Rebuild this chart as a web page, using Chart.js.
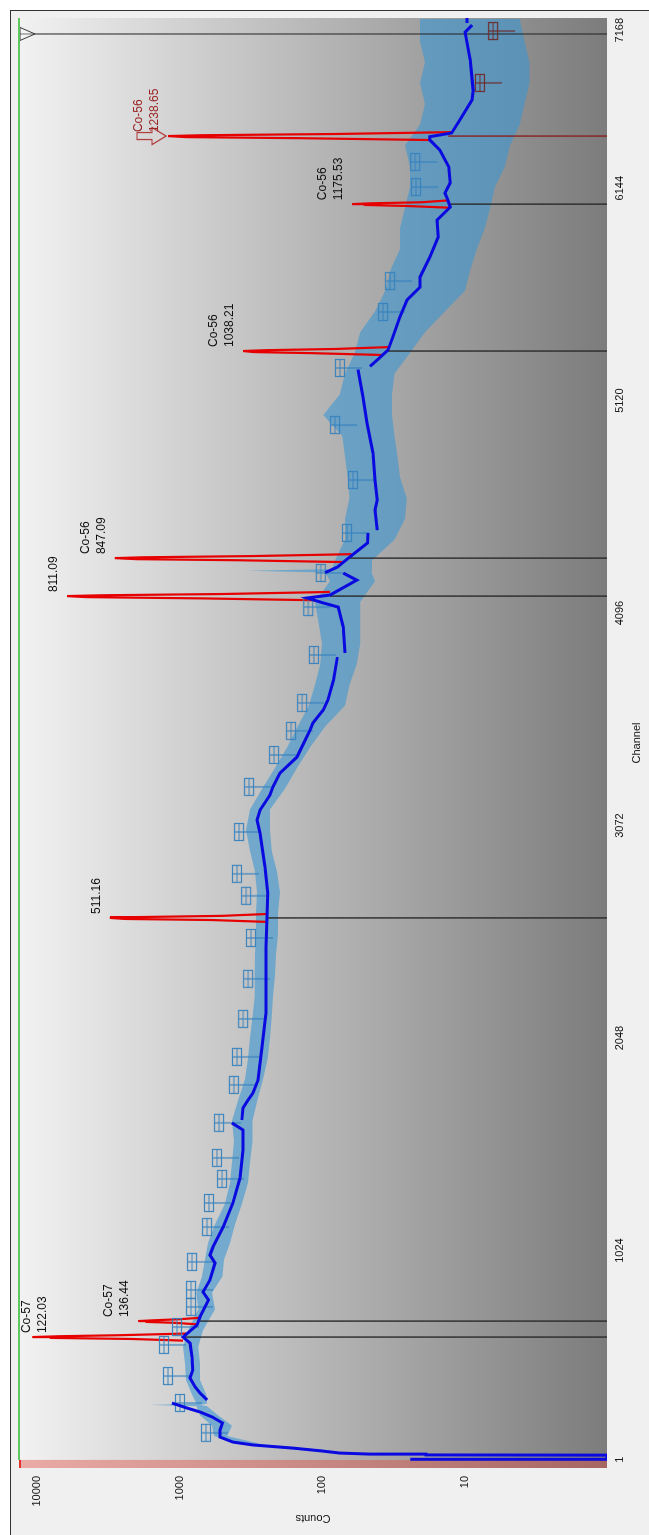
<!DOCTYPE html>
<html><head><meta charset="utf-8">
<script src="https://cdn.jsdelivr.net/npm/chart.js@4.4.1/dist/chart.umd.min.js"></script>
<style>
html,body{margin:0;padding:0;background:#fff;width:649px;height:1535px;overflow:hidden;}
#frame{position:absolute;left:10px;top:10px;width:700px;height:1600px;border-left:1px solid #333;border-top:1px solid #333;background:#f0f0f0;}
#wrap{position:absolute;left:0;top:0;width:1535px;height:649px;transform-origin:0 0;transform:translateY(1535px) rotate(-90deg);}
</style></head><body>
<div id="frame"></div>
<div id="wrap"><canvas id="c" width="1535" height="649"></canvas></div>
<script>
// ---- axis ticks ----
const channelTicks = [1, 1024, 2048, 3072, 4096, 5120, 6144];
const lastTickLabel = '7168';
const countTicks = [10, 100, 1000, 10000];
const xMin = -24, xMax = 6964, yMin = 1, yMax = 13375;
const pinkEnd = 15;
const cursorCh = 6887;

// ---- fitted continuum (dark blue) ----
const contCh = [15,17,19,38,39,43,48,58,72,87,
 101,125,159,193,222,246,265,289,296,304,
 337,366,410,448,511,578,607,665,704,786,
 824,882,964,1002,1041,1137,1253,1373,1508,1605,
 1639,1646,1653,1711,1749,1783,1846,2005,2169,2328,
 2487,2631,2747,2872,3036,3099,3147,3219,3258,3325,
 3402,3533,3566,3629,3677,3773,3884,3894,3904,4029,
 4125,4145,4169,4183,4255,4289,4290,4291,4318,4366,
 4434,4482,4489,4496,4593,4641,4737,4867,5012,5137,
 5270,5277,5285,5316,5364,5427,5523,5605,5667,5716,
 5812,5908,5990,6053,6087,6120,6169,6246,6328,6376,
 6392,6410,6472,6569,6617,6761,6896,6930,6935,6940,
 6964];
const contCounts = [1,24,1,1,18.6,46,75,100,160,305,
 422,520,520,500,590,718,886,1130,null,640,
 718,775,844,806,818,844,944,753,718,625,
 684,611,563,611,582,495,422,376,358,358,
 429,null,365,358,330,305,281,264,247,247,
 247,243,240,251,272,286,272,232,221,197,
 150,121,116,98,91,83,78,null,69,71,
 77,98,127,88,57,71,null,95,78,64,
 48,47.5,null,41,42.5,41,42.5,43.8,48.3,51.5,
 55.9,null,46,41,34.4,31.8,28.4,25.3,20.5,20.5,
 17.5,15.3,15.6,12.6,13.1,13.7,12.6,12.9,14.9,17.5,
 17.5,12.3,10.8,8.85,8.7,9.1,9.9,8.85,null,9.6,
 9.6];

// ---- measured spectrum spread (light blue band: high / low edges) ----
const noiseCh = [60,90,130,180,230,274,280,286,330,400,480,560,
 640,740,820,900,980,1060,1150,1250,1350,1450,
 1550,1650,1750,1850,1950,2050,2150,2250,2350,2450,
 2550,2650,2750,2850,2950,3050,3150,3250,3350,3450,
 3550,3650,3750,3850,3950,4050,4150,4250,4292,4300,4308,4350,
 4450,4550,4650,4750,4850,4950,5050,5150,5250,5350,
 5450,5550,5650,5750,5850,5950,6050,6150,6250,6350,
 6450,6550,6650,6750,6850,6960];
const noiseHi = [132,376,573,591,717,760,1611,760,816,899,914,944,
 867,738,761,695,661,630,563,479,442,428,
 415,428,387,347,331,320,307,297,297,295,
 290,290,286,295,320,341,320,263,214,175,
 148,124,112,103,100,106,112,88,95,334,85,81,
 69,69,64,66,69,72,98,75,69,59,
 54,42.5,36,33,28.4,28.4,26.2,24.1,24.1,26.2,
 20.5,18.9,20.5,18.9,20.5,20.5];
const noiseLo = [88,263,462,428,536,640,717,640,650,717,717,738,
 684,563,591,500,488,442,408,364,331,320,
 307,307,283,259,240,232,225,221,214,210,
 204,204,197,207,225,232,232,182,150,121,
 95,69,64,57,54,54,54,42.5,45,44.5,44.5,44.5,
 31,26.2,25.4,28.4,29.5,31,32.3,32.3,31,24.1,
 18.9,13.7,9.9,9.1,8.2,7.2,6.6,6.1,5.2,4.8,
 4.1,3.8,3.5,3.5,3.8,4.1];

// ---- identified peaks ----
const peakCh = [607, 684, 2627, 4178, 4361, 5359, 6067, 6395];
const peakTip = [10800, 1950, 3080, 6150, 2840, 358, 61.5, 1205];
const peakBase = [944, 717, 243, 88, 64, 35, 12.6, 13];
const peakNuclide = ['Co-57','Co-57','','','Co-56','Co-56','Co-56','Co-56'];
const peakEnergy = ['122.03','136.44','511.16','811.09','847.09','1038.21','1175.53','1238.65'];
const selectedPeak = 7;
const peakProfileCh = [
 [590,598,603,607,611,616,624],
 [668,676,680,684,688,693,700],
 [2608,2617,2622,2627,2631,2637,2646],
 [4158,4167,4173,4178,4182,4188,4198],
 [4342,4351,4356,4361,4365,4371,4380],
 [5340,5349,5354,5359,5363,5369,5378],
 [6050,6058,6063,6067,6071,6076,6085],
 [6376,6385,6390,6395,6399,6405,6414]];
const peakProfileCounts = [
 [944,2200,8000,10800,7000,2600,900],
 [740,1100,1700,1950,1500,1000,720],
 [245,600,2400,3080,2000,500,243],
 [110,700,4500,6150,3500,500,88],
 [70,400,2000,2840,1800,300,62],
 [38,120,300,358,250,80,34],
 [13,25,50,61.5,45,20,13],
 [17.5,150,900,1205,700,80,12.3]];

// ---- search markers ----
const markerCh = [145,289,419,569,655,752,834,969,1137,1253,
 1369,1470,1639,1822,1957,2140,2333,2530,2733,2839,
 3041,3258,3412,3528,3663,3894,4125,4289,4482,4737,
 5002,5277,5547,5696,6149,6270];
const markerCounts = [652,992,1205,1285,1042,830,830,817,641,621,
 503,546,528,415,395,358,330,315,341,395,
 382,325,217,165,138,114,125,102,66.8,60.6,
 81,74.8,37.3,33.3,21.9,22.2];
const darkMarkerCh = [6651, 6901];
const darkMarkerCounts = [7.8, 6.3];

// ---------------------------------------------------------------
const FONT = '"Liberation Sans", Arial, sans-serif';
Chart.defaults.font.family = FONT;
const pts = (xs, ys) => xs.map((v, i) => ({x: v, y: ys[i]}));

function boxGlyph(color){
  const c = document.createElement('canvas'); c.width = 20; c.height = 46;
  const g = c.getContext('2d'); g.strokeStyle = color; g.lineWidth = 1.2;
  g.strokeRect(1.5, 18.5, 17, 9);
  g.beginPath(); g.moveTo(1.5, 23); g.lineTo(18.5, 23);
  g.moveTo(10, 18.5); g.lineTo(10, 45); g.stroke();
  return c;
}
function arrowGlyph(){
  const c = document.createElement('canvas'); c.width = 22; c.height = 64;
  const g = c.getContext('2d'); g.strokeStyle = '#b03434'; g.lineWidth = 1.2;
  g.beginPath(); g.moveTo(7.5,1); g.lineTo(14.5,1); g.lineTo(14.5,16); g.lineTo(19.5,16);
  g.lineTo(11,30); g.lineTo(2.5,16); g.lineTo(7.5,16); g.closePath(); g.stroke();
  return c;
}
function triGlyph(){
  const c = document.createElement('canvas'); c.width = 16; c.height = 36;
  const g = c.getContext('2d'); g.strokeStyle = '#333'; g.lineWidth = 1;
  g.fillStyle = 'rgba(255,255,255,0.35)';
  g.beginPath(); g.moveTo(1.5,19); g.lineTo(14.5,19); g.lineTo(8,34); g.closePath(); g.fill(); g.stroke();
  return c;
}

const datasets = [];
datasets.push({data: pts(noiseCh, noiseHi), borderWidth: 0, pointRadius: 0, fill: false, order: 20});
datasets.push({data: pts(noiseCh, noiseLo), borderWidth: 0, pointRadius: 0, fill: 0,
  backgroundColor: 'rgba(58,150,210,0.6)', order: 20});
peakCh.forEach((c, i) => {
  datasets.push({data: [{x: c, y: peakBase[i]}, {x: c, y: yMin}],
    borderColor: i === selectedPeak ? '#8a2020' : '#2a2a2a', borderWidth: 1.4, pointRadius: 0, order: 15});
});
datasets.push({data: [{x: cursorCh, y: yMin}, {x: cursorCh, y: yMax}], borderColor: '#222', borderWidth: 1,
  pointRadius: 0, order: 15, clip: false});
peakProfileCh.forEach((chs, i) => {
  datasets.push({data: pts(chs, peakProfileCounts[i]), borderColor: '#e60000', borderWidth: 2.2,
    pointRadius: 0, order: 10});
});
datasets.push({data: pts(markerCh, markerCounts), showLine: false, pointStyle: boxGlyph('rgba(55,130,190,0.95)'),
  pointRadius: 10, order: 8, clip: false});
datasets.push({data: pts(darkMarkerCh, darkMarkerCounts), showLine: false, pointStyle: boxGlyph('#6e2c2c'),
  pointRadius: 10, order: 8, clip: false});
datasets.push({data: pts(contCh, contCounts), borderColor: '#0a0ae0', borderWidth: 3, pointRadius: 0,
  spanGaps: false, order: 5});
datasets.push({data: [{x: pinkEnd, y: yMax}, {x: xMax, y: yMax}], borderColor: '#5ec85e', borderWidth: 2,
  pointRadius: 0, order: 1, clip: false});
datasets.push({data: [{x: peakCh[selectedPeak], y: peakTip[selectedPeak]}], showLine: false,
  pointStyle: arrowGlyph(), pointRadius: 10, order: 1, clip: false});
datasets.push({data: [{x: cursorCh, y: yMax}], showLine: false, pointStyle: triGlyph(),
  pointRadius: 10, order: 1, clip: false});

const bgPlugin = {
  id: 'bg',
  beforeDatasetsDraw(chart){
    const {ctx, chartArea: a, scales: {x}} = chart;
    ctx.save();
    const gr = ctx.createLinearGradient(0, a.top, 0, a.bottom);
    gr.addColorStop(0, '#f2f2f2'); gr.addColorStop(1, '#7c7c7c');
    ctx.fillStyle = gr; ctx.fillRect(a.left, a.top, a.right - a.left, a.bottom - a.top);
    const pe = x.getPixelForValue(pinkEnd);
    ctx.fillStyle = 'rgba(225,75,65,0.42)'; ctx.fillRect(a.left, a.top, pe - a.left, a.bottom - a.top);
    ctx.fillStyle = '#e03030'; ctx.fillRect(a.left, a.top, pe - a.left, 2);
    ctx.restore();
  }
};
const labelPlugin = {
  id: 'peakLabels',
  afterDatasetsDraw(chart){
    const {ctx, chartArea, scales: {x, y}} = chart;
    ctx.save();
    ctx.font = '12px ' + FONT; ctx.textAlign = 'left'; ctx.textBaseline = 'alphabetic';
    peakCh.forEach((c, i) => {
      const lines = peakNuclide[i] ? [peakNuclide[i], peakEnergy[i]] : [peakEnergy[i]];
      const px = x.getPixelForValue(c) + 4;
      let first = y.getPixelForValue(peakTip[i]) - 10 - 16 * (lines.length - 1);
      if (first < chartArea.top + 11) first = chartArea.top + 11;
      ctx.fillStyle = i === selectedPeak ? '#9b2525' : '#111';
      lines.forEach((t, k) => ctx.fillText(t, px, first + 16 * k));
    });
    ctx.restore();
  }
};

new Chart(document.getElementById('c'), {
  type: 'line',
  data: {datasets},
  options: {
    responsive: false, animation: false, devicePixelRatio: 1, events: [],
    layout: {padding: {top: 19, right: 18, left: 0, bottom: 0}},
    plugins: {legend: {display: false}, tooltip: {enabled: false}},
    elements: {line: {tension: 0}},
    scales: {
      x: {type: 'linear', min: xMin, max: xMax,
        grid: {display: false, drawTicks: false}, border: {display: false},
        afterBuildTicks(s){ s.ticks = channelTicks.concat([s.max]).map(v => ({value: v})); },
        afterFit(s){ s.height = 42; },
        ticks: {autoSkip: false, maxRotation: 0, minRotation: 0, align: 'inner', padding: 6, color: '#111',
          font: {size: 11},
          callback(v, i, t){ return i === t.length - 1 ? lastTickLabel : String(v); }},
        title: {display: true, text: 'Channel', color: '#111', font: {size: 11}, padding: {top: 0, bottom: 5}}
      },
      y: {type: 'logarithmic', min: yMin, max: yMax,
        grid: {display: false, drawTicks: false}, border: {display: false},
        afterBuildTicks(s){ s.ticks = countTicks.map(v => ({value: v})); },
        afterFit(s){ s.width = 67; },
        ticks: {autoSkip: false, padding: 8, color: '#111', font: {size: 11},
          callback(v){ return String(v); }},
        title: {display: true, text: 'Counts', color: '#111', font: {size: 11}, padding: {top: 10, bottom: 0}}
      }
    }
  },
  plugins: [bgPlugin, labelPlugin]
});
</script>
</body></html>
